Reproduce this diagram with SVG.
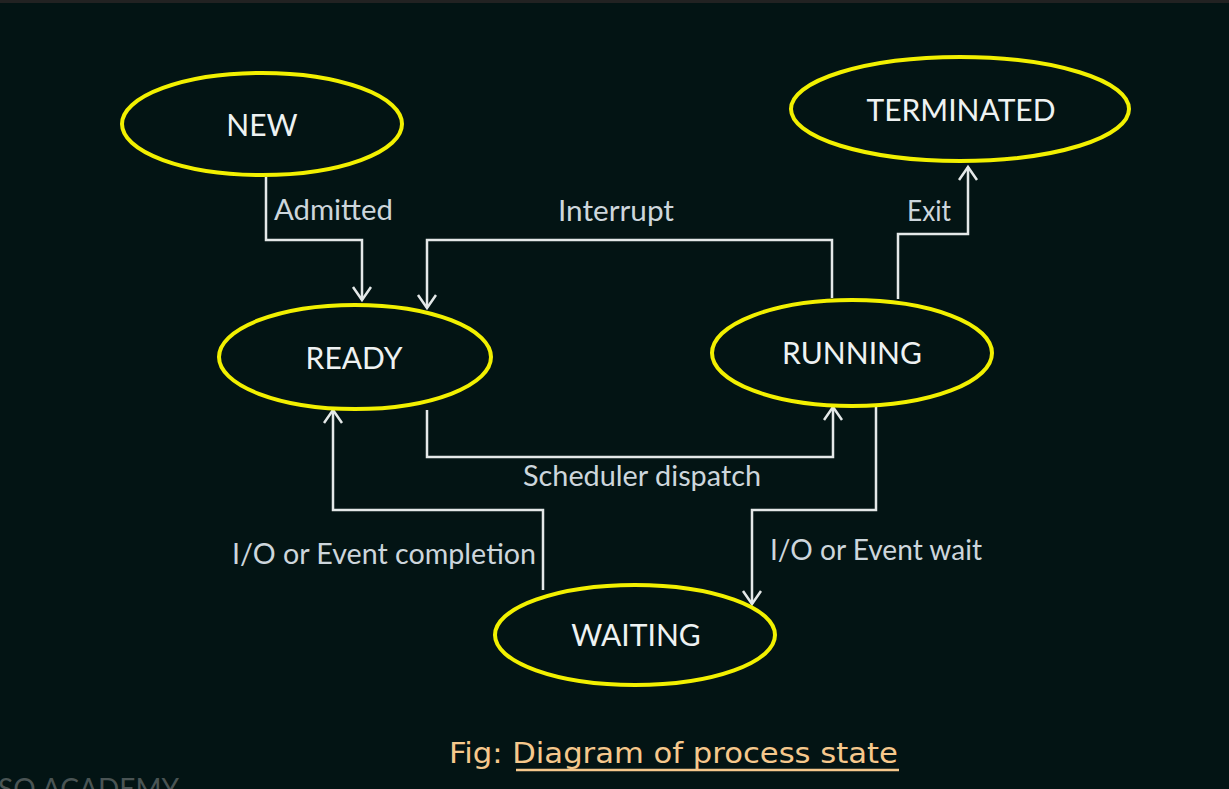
<svg xmlns="http://www.w3.org/2000/svg" width="1229" height="789" viewBox="0 0 1229 789">
<defs>
<style>
.st{fill:none;stroke:#f2f000;stroke-width:4}
.nt{font-family:Lato,"Open Sans",sans-serif;font-size:30px;fill:#eef2f2;text-anchor:middle}
.lb{font-family:Lato,"Open Sans",sans-serif;font-size:28px;fill:#cdd6dc}
.cn{fill:none;stroke:#e4e8e8;stroke-width:2.5;stroke-linejoin:miter}
</style>
<marker id="arr" markerUnits="userSpaceOnUse" markerWidth="20" markerHeight="24" refX="14" refY="10" orient="auto" viewBox="0 0 20 24">
<path d="M1,1 L14,10 L1,19" fill="none" stroke="#e4e8e8" stroke-width="2.5"/>
</marker>
</defs>
<rect width="1229" height="789" fill="#031414"/>
<rect width="1229" height="3" fill="#222"/>
<g id="connectors">
<path class="cn" d="M266,177 V240 H362 V300" marker-end="url(#arr)"/>
<path class="cn" d="M832,298 V240 H427 V308" marker-end="url(#arr)"/>
<path class="cn" d="M898,299 V234 H968 V167" marker-end="url(#arr)"/>
<path class="cn" d="M427,410 V457 H833 V407" marker-end="url(#arr)"/>
<path class="cn" d="M543,590 V510 H333 V410" marker-end="url(#arr)"/>
<path class="cn" d="M876,407 V510 H752 V604" marker-end="url(#arr)"/>
<text class="lb" x="274" y="220" textLength="119" lengthAdjust="spacingAndGlyphs">Admitted</text>
<text class="lb" x="558" y="221" textLength="116" lengthAdjust="spacingAndGlyphs">Interrupt</text>
<text class="lb" x="907" y="221" textLength="44" lengthAdjust="spacingAndGlyphs">Exit</text>
<text class="lb" x="523" y="486" textLength="238" lengthAdjust="spacingAndGlyphs">Scheduler dispatch</text>
<text class="lb" x="232" y="564" textLength="304" lengthAdjust="spacingAndGlyphs">I/O or Event completion</text>
<text class="lb" x="770" y="560" textLength="212" lengthAdjust="spacingAndGlyphs">I/O or Event wait</text>
</g>
<g id="new"><ellipse class="st" cx="262" cy="124" rx="140" ry="51"/><text class="nt" x="262" y="136">NEW</text></g>
<g id="terminated"><ellipse class="st" cx="960" cy="109" rx="169" ry="52"/><text class="nt" x="961" y="121">TERMINATED</text></g>
<g id="ready"><ellipse class="st" cx="355" cy="357" rx="136" ry="52"/><text class="nt" x="354" y="369">READY</text></g>
<g id="running"><ellipse class="st" cx="852" cy="353" rx="140" ry="53"/><text class="nt" x="852" y="364">RUNNING</text></g>
<g id="waiting"><ellipse class="st" cx="635" cy="635" rx="140" ry="50"/><text class="nt" x="636" y="646">WAITING</text></g>
<g id="caption">
<text x="449" y="763" font-family="'Comic Sans MS','DejaVu Sans Condensed',sans-serif" font-size="28" fill="#f6c88c" textLength="449" lengthAdjust="spacingAndGlyphs">Fig: Diagram of process state</text>
<line x1="516" y1="770" x2="899" y2="770" stroke="#f6c88c" stroke-width="2.5"/>
</g>
<text x="-2" y="799" font-family="Lato,sans-serif" font-size="28" fill="#4a5454">SO ACADEMY</text>
</svg>
